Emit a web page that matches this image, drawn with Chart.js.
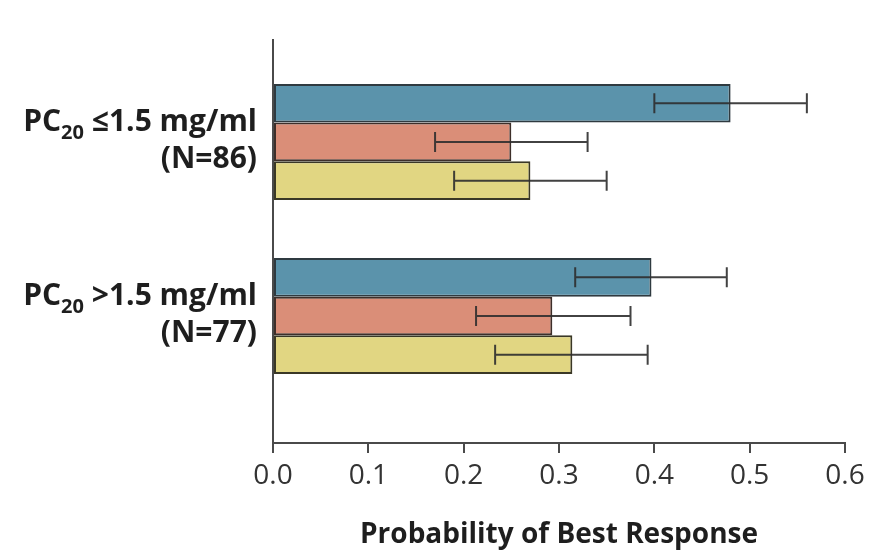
<!DOCTYPE html>
<html>
<head>
<meta charset="utf-8">
<script src="https://cdn.jsdelivr.net/npm/chart.js@4.4.1/dist/chart.umd.min.js"></script>
<style>
html,body{margin:0;padding:0;background:#fff;}
#wrap{width:871px;height:552px;}
</style>
</head>
<body>
<div id="wrap"><canvas id="c" width="871" height="552"></canvas></div>
<script>
// Category labels (PC20 threshold groups)
const groupPrefix = ['PC', 'PC'];
const groupSub = ['20', '20'];
const groupRest = [' \u22641.5 mg/ml', ' >1.5 mg/ml'];
const groupN = ['(N=86)', '(N=77)'];
const groupPos = [1, 2];

// Series values (probability of best response) and 95% CI bounds
const blueVals = [0.48, 0.397];
const blueLo = [0.40, 0.317];
const blueHi = [0.56, 0.476];

const salmonVals = [0.25, 0.293];
const salmonLo = [0.17, 0.213];
const salmonHi = [0.33, 0.375];

const yellowVals = [0.27, 0.314];
const yellowLo = [0.19, 0.233];
const yellowHi = [0.35, 0.393];

const xTicks = [0.0, 0.1, 0.2, 0.3, 0.4, 0.5, 0.6];

const toPts = (vals) => vals.map((v, i) => ({ x: v, y: groupPos[i] }));
const errLo = [blueLo, salmonLo, yellowLo];
const errHi = [blueHi, salmonHi, yellowHi];

const errorBars = {
  id: 'errorBars',
  afterDatasetsDraw(chart) {
    const ctx = chart.ctx;
    const xs = chart.scales.x;
    ctx.save();
    ctx.strokeStyle = 'rgba(45,45,45,0.9)';
    ctx.lineWidth = 2;
    chart.data.datasets.forEach((ds, di) => {
      const meta = chart.getDatasetMeta(di);
      meta.data.forEach((bar, j) => {
        const y = bar.y;
        const x1 = xs.getPixelForValue(errLo[di][j]);
        const x2 = xs.getPixelForValue(errHi[di][j]);
        ctx.beginPath();
        ctx.moveTo(x1, y); ctx.lineTo(x2, y);
        ctx.moveTo(x1, y - 10); ctx.lineTo(x1, y + 10);
        ctx.moveTo(x2, y - 10); ctx.lineTo(x2, y + 10);
        ctx.stroke();
      });
    });
    ctx.restore();
  }
};

const groupLabels = {
  id: 'groupLabels',
  afterDraw(chart) {
    const ctx = chart.ctx;
    const ys = chart.scales.y;
    const right = chart.chartArea.left - 16;
    const big = 'bold 30px "Open Sans"';
    const small = 'bold 20px "Open Sans"';
    ctx.save();
    ctx.fillStyle = '#1e1e1e';
    ctx.textBaseline = 'alphabetic';
    groupPos.forEach((p, i) => {
      const cy = ys.getPixelForValue(p);
      ctx.font = big;
      const w1 = ctx.measureText(groupPrefix[i]).width;
      const w3 = ctx.measureText(groupRest[i]).width;
      ctx.font = small;
      const w2 = ctx.measureText(groupSub[i]).width;
      let x = right - (w1 + w2 + w3);
      const base1 = cy - 11;
      ctx.textAlign = 'left';
      ctx.font = big;
      ctx.fillText(groupPrefix[i], x, base1);
      x += w1;
      ctx.font = small;
      ctx.fillText(groupSub[i], x, base1 + 8);
      x += w2;
      ctx.font = big;
      ctx.fillText(groupRest[i], x, base1);
      ctx.textAlign = 'right';
      ctx.fillText(groupN[i], right, cy + 26);
    });
    ctx.restore();
  }
};

new Chart(document.getElementById('c'), {
  type: 'bar',
  data: {
    datasets: [
      { data: toPts(blueVals), backgroundColor: '#5b93ab', borderColor: '#2f3a40', borderWidth: 2, borderSkipped: false },
      { data: toPts(salmonVals), backgroundColor: '#da8e78', borderColor: '#3d2f2a', borderWidth: 2, borderSkipped: false },
      { data: toPts(yellowVals), backgroundColor: '#e1d682', borderColor: '#3a3826', borderWidth: 2, borderSkipped: false }
    ]
  },
  options: {
    indexAxis: 'y',
    responsive: false,
    animation: false,
    devicePixelRatio: 1,
    categoryPercentage: 0.667,
    barPercentage: 1.0,
    layout: { padding: { left: 273, right: 26, top: 40, bottom: 0 } },
    plugins: { legend: { display: false }, tooltip: { enabled: false } },
    scales: {
      y: {
        type: 'linear',
        reverse: true,
        offset: false,
        bounds: 'data',
        min: 0.414,
        max: 2.73,
        afterBuildTicks: (s) => { s.ticks = groupPos.map(v => ({ value: v })); },
        ticks: { display: false },
        grid: { display: false, drawTicks: false, offset: false },
        border: { display: true, color: '#4a4a4a', width: 2 },
        afterFit: (s) => { s.width = 0; }
      },
      x: {
        type: 'linear',
        min: 0,
        max: 0.6,
        afterBuildTicks: (s) => { s.ticks = xTicks.map(v => ({ value: v })); },
        ticks: {
          callback: (v) => Number(v).toFixed(1),
          font: { family: '"Open Sans"', size: 28 },
          color: '#333',
          padding: 6,
          maxRotation: 0
        },
        grid: { drawOnChartArea: false, drawTicks: true, tickLength: 10, color: '#4a4a4a', lineWidth: 2 },
        border: { display: true, color: '#4a4a4a', width: 2 },
        title: {
          display: true,
          text: 'Probability of Best Response',
          font: { family: '"Open Sans"', size: 28, weight: 'bold' },
          color: '#1e1e1e',
          padding: { top: 0, bottom: 0 }
        },
        afterFit: (s) => { s.height = 109; }
      }
    }
  },
  plugins: [errorBars, groupLabels]
});
</script>
</body>
</html>
